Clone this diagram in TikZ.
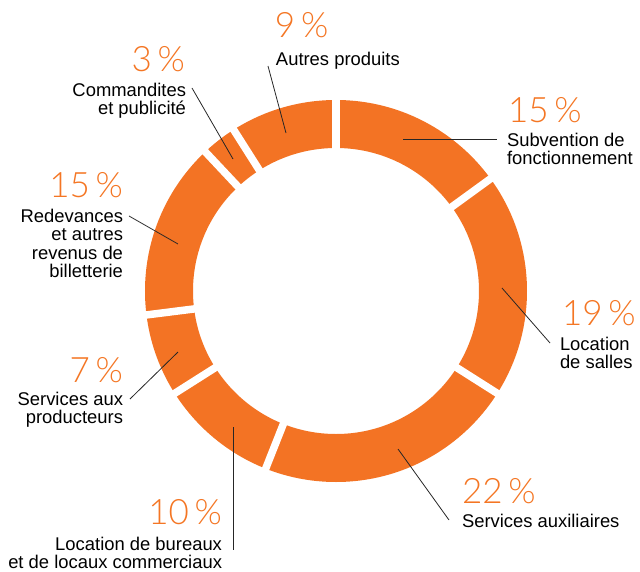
\documentclass[tikz,border=0pt]{standalone}
\usepackage{fontspec}
\setmainfont{Liberation Sans}
\newfontfamily\pctfont{Lato Light}
\definecolor{donut}{HTML}{F37324}
\definecolor{pcttext}{HTML}{F47624}

\begin{document}
\begin{tikzpicture}[x=1pt,y=1pt]
  \tikzstyle{every node}=[inner sep=0pt,outer sep=0pt]
  \tikzstyle{pct}=[text=pcttext,font=\pctfont\fontsize{35}{35}\selectfont]
  \tikzstyle{lbl}=[font=\fontsize{18.4}{18.5}\selectfont]
  \tikzstyle{leader}=[draw=black!85,line width=0.8pt]
  \useasboundingbox (-336,-280) rectangle (304,291);
  % ring and white gaps
  \fill[donut,even odd rule] (0,0) circle (191) (0,0) circle (143);
  \foreach \a in {90,36,-32.4,-111.6,-147.6,-172.8,-226.8,-237.6}
    \draw[white,line width=7.5pt] (\a:135) -- (\a:199);
  % labels
  \node[pct,anchor=base west] (p9) at (-61,253) {9\,\%};
  \node[lbl,anchor=north west,align=left] (t9) at (-60,239) {Autres produits};
  \node[pct,anchor=base east] (p3) at (-151,219) {3\,\%};
  \node[lbl,anchor=north east,align=right] (t3) at (-150,208) {Commandites\\et publicité};
  \node[pct,anchor=base west] (p15a) at (172,169) {15\,\%};
  \node[lbl,anchor=north west,align=left] (t15a) at (171,158) {Subvention de\\fonctionnement};
  \node[pct,anchor=base west] (p19) at (226,-34) {19\,\%};
  \node[lbl,anchor=north west,align=left] (t19) at (224,-46) {Location\\de salles};
  \node[pct,anchor=base west] (p22) at (126,-212) {22\,\%};
  \node[lbl,anchor=north west,align=left] (t22) at (126,-223) {Services auxiliaires};
  \node[pct,anchor=base east] (p10) at (-114,-233) {10\,\%};
  \node[lbl,anchor=north east,align=right] (t10) at (-114,-246) {Location de bureaux\\et de locaux commerciaux};
  \node[pct,anchor=base east] (p7) at (-213,-91) {7\,\%};
  \node[lbl,anchor=north east,align=right] (t7) at (-213,-101) {Services aux\\producteurs};
  \node[pct,anchor=base east] (p15b) at (-213,94) {15\,\%};
  \node[lbl,anchor=north east,align=right] (t15b) at (-213,82) {Redevances\\et autres\\revenus de\\billetterie};
  % leader lines
  \coordinate (r9) at (-50,158);    \coordinate (e9) at (-68,225);
  \coordinate (r3) at (-103,132);   \coordinate (e3) at (-144,203);
  \coordinate (r15a) at (67,152);   \coordinate (e15a) at (161,152);
  \coordinate (r19) at (166,3);     \coordinate (e19) at (214,-52);
  \coordinate (r22) at (62,-158);   \coordinate (e22) at (113,-229);
  \coordinate (r10) at (-103,-136); \coordinate (e10) at (-103,-259);
  \coordinate (r7) at (-158,-61);   \coordinate (e7) at (-206,-108);
  \coordinate (r15b) at (-158,47);  \coordinate (e15b) at (-207,75);
  \foreach \n in {9,3,15a,19,22,10,7,15b}
    \draw[leader] (r\n) -- (e\n);
\end{tikzpicture}
\end{document}
